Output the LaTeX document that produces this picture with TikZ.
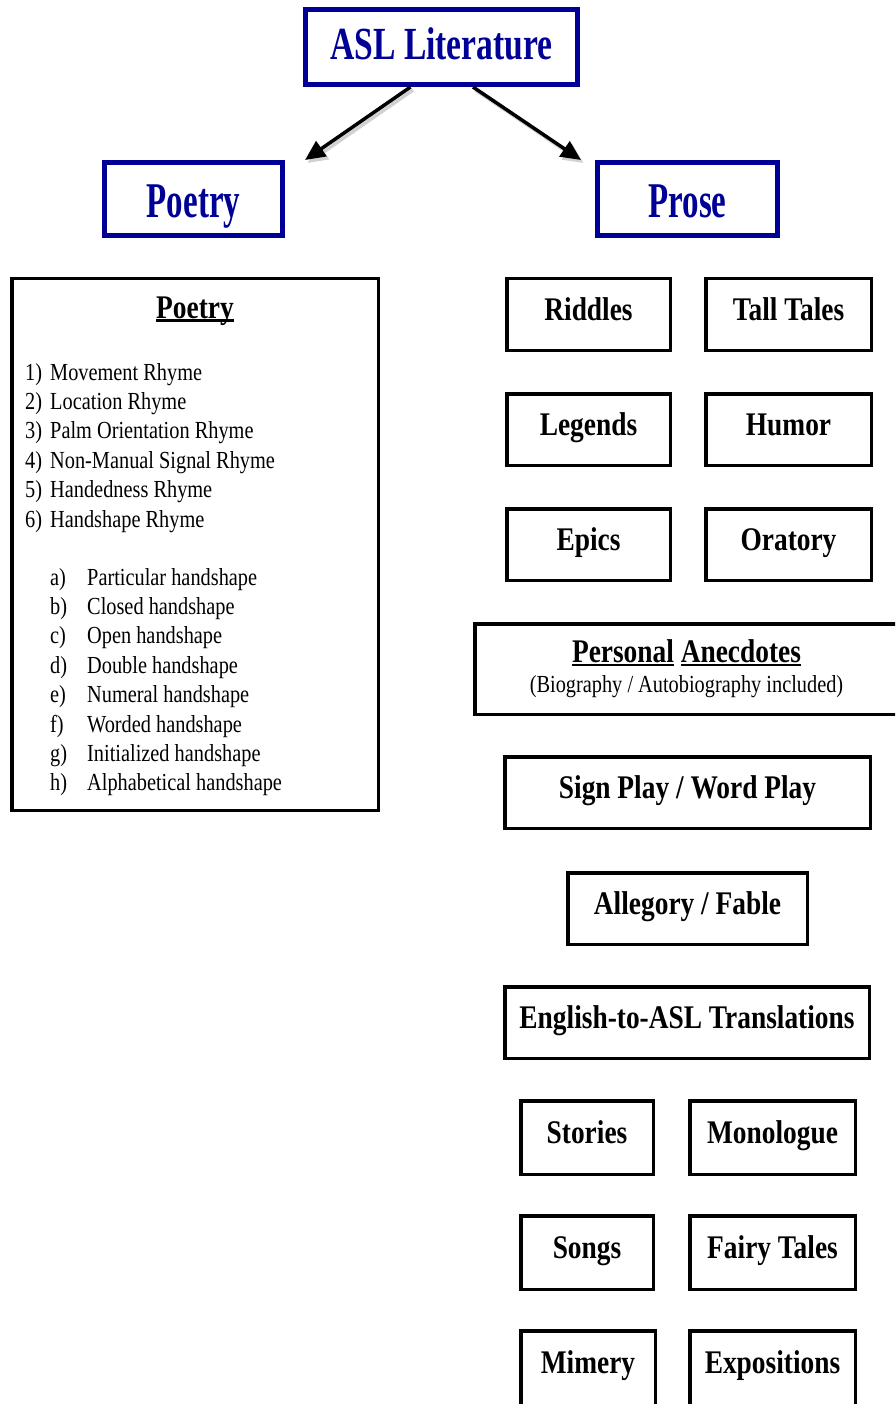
\documentclass[tikz,border=0pt]{standalone}
\usepackage{fontspec}
\setmainfont{Liberation Serif}
\newfontfamily\boxfont[FakeStretch=0.83]{Liberation Serif}
\newfontfamily\titlefont[FakeStretch=0.73]{Liberation Serif}
\newfontfamily\branchfont[FakeStretch=0.66]{Liberation Serif}
\usetikzlibrary{positioning, arrows.meta}

\definecolor{aslblue}{RGB}{0,0,150}
\newcommand{\wordline}[1]{\sbox0{#1}\rlap{\rule[-3.5pt]{\wd0}{2.2pt}}\usebox0}

\tikzset{
    topbox/.style={draw=aslblue, line width=5pt, text=aslblue, inner sep=0pt},
    catbox/.style={draw=black, line width=3.5pt, minimum height=71.5pt, inner sep=0pt,
        font=\boxfont\bfseries\fontsize{33}{36}\selectfont, text height=22pt, text depth=10pt},
    listitem/.style={anchor=base west, inner sep=0pt, font=\boxfont\fontsize{24.5}{28}\selectfont},
    branch/.style={-{Triangle[length=20pt,width=18pt]}, line width=3.5pt},
    branchshadow/.style={branch, draw=black!18, color=black!18, transform canvas={shift={(2.5pt,-3pt)}}},
}

\begin{document}
\begin{tikzpicture}[x=1pt, y=-1pt]
    \useasboundingbox (0,0) rectangle (895,1404);
    \clip (0,0) rectangle (895,1404);

    % top of the tree
    \node[topbox, minimum width=272pt, minimum height=75pt, text height=30pt, text depth=4pt,
        font=\titlefont\bfseries\fontsize{46}{48}\selectfont] (asl) at (441.5,47) {ASL Literature};
    \node[topbox, minimum width=178pt, minimum height=73pt, text height=38pt, text depth=0pt,
        font=\branchfont\bfseries\fontsize{50}{52}\selectfont] (poetry) at (193.5,199) {Poetry};
    \node[topbox, minimum width=180pt, minimum height=73pt, text height=38pt, text depth=0pt,
        font=\branchfont\bfseries\fontsize{50}{52}\selectfont] (prose) at (687.5,199) {Prose};

    \coordinate (poetrytail) at ([xshift=-31pt]asl.south);
    \coordinate (prosetail) at ([xshift=31.5pt]asl.south);
    \coordinate (poetrytip) at ([xshift=20pt]poetry.north east);
    \coordinate (prosetip) at ([xshift=-14pt]prose.north west);
    \draw[branchshadow] (poetrytail) -- (poetrytip);
    \draw[branchshadow] (prosetail) -- (prosetip);
    \draw[branch] (poetrytail) -- (poetrytip);
    \draw[branch] (prosetail) -- (prosetip);

    % poetry list
    \node[draw, line width=3.5pt, minimum width=366.5pt, minimum height=531.5pt, inner sep=0pt] (poetrylist) at (195,544.5) {};
    \node[anchor=base, inner sep=0pt, font=\boxfont\bfseries\fontsize{33}{36}\selectfont] (poetryhead) at (195,318) {\wordline{Poetry}};
    \foreach \txt [count=\i] in {Movement Rhyme, Location Rhyme, Palm Orientation Rhyme,
        Non-Manual Signal Rhyme, Handedness Rhyme, Handshape Rhyme}
    {
        \node[listitem] (rhymenum\i) at (25,{350.6+29.4*\i}) {\i)};
        \node[listitem] (rhyme\i) at (50,{350.6+29.4*\i}) {\txt};
    }
    \foreach \l/\txt [count=\i] in {a/Particular handshape, b/Closed handshape, c/Open handshape,
        d/Double handshape, e/Numeral handshape, f/Worded handshape, g/Initialized handshape,
        h/Alphabetical handshape}
    {
        \node[listitem] (shapenum\i) at (50,{555.6+29.4*\i}) {\l)};
        \node[listitem] (shape\i) at (87,{555.6+29.4*\i}) {\txt};
    }

    % prose boxes
    \node[catbox, minimum width=163.5pt] (riddles) at (588.5,314.5) {Riddles};
    \node[catbox, minimum width=165.5pt] (talltales) at (788.5,314.5) {Tall Tales};
    \node[catbox, minimum width=163.5pt] (legends) at (588.5,429.5) {Legends};
    \node[catbox, minimum width=165.5pt] (humor) at (788.5,429.5) {Humor};
    \node[catbox, minimum width=163.5pt] (epics) at (588.5,544.5) {Epics};
    \node[catbox, minimum width=165.5pt] (oratory) at (788.5,544.5) {Oratory};
    \node[draw, line width=3.5pt, minimum width=423.5pt, minimum height=90.5pt, inner sep=0pt, align=center,
        font=\boxfont\fontsize{24.5}{30}\selectfont] (anecdotes) at (686.5,669)
        {{\bfseries\fontsize{33}{30}\selectfont\wordline{Personal} \wordline{Anecdotes}}\\(Biography / Autobiography included)};
    \node[catbox, minimum width=365.5pt] (signplay) at (687.5,792.5) {Sign Play / Word Play};
    \node[catbox, minimum width=239.5pt] (allegory) at (687.5,908.5) {Allegory / Fable};
    \node[catbox, minimum width=364.5pt] (translations) at (687,1022.5) {English-to-ASL Translations};
    \node[catbox, minimum width=132.5pt, minimum height=73.5pt] (stories) at (587,1137.5) {Stories};
    \node[catbox, minimum width=165.5pt, minimum height=73.5pt] (monologue) at (772.5,1137.5) {Monologue};
    \node[catbox, minimum width=132.5pt, minimum height=73.5pt] (songs) at (587,1252.5) {Songs};
    \node[catbox, minimum width=165.5pt, minimum height=73.5pt] (fairytales) at (772.5,1252.5) {Fairy Tales};
    \node[catbox, minimum width=134.5pt, minimum height=83.5pt] (mimery) at (588,1372.5) {\raisebox{5pt}{Mimery}};
    \node[catbox, minimum width=165.5pt, minimum height=83.5pt] (expositions) at (772.5,1372.5) {\raisebox{5pt}{Expositions}};
\end{tikzpicture}
\end{document}
